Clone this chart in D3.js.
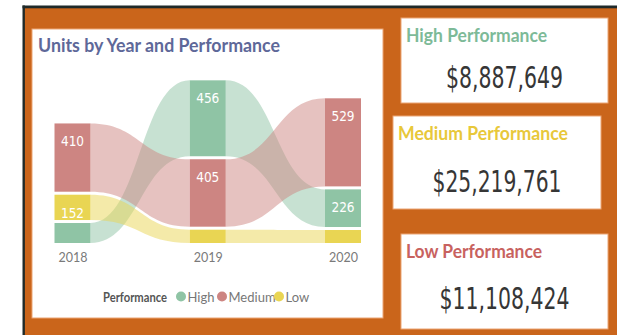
<!DOCTYPE html>
<html>
<head>
<meta charset="utf-8">
<script src="https://cdn.jsdelivr.net/npm/d3@7"></script>
<style>
  html, body { margin: 0; padding: 0; background: #ffffff; }
  svg { display: block; }
</style>
</head>
<body>
<svg id="dash" width="617" height="335"></svg>
<script>
// Units per year, by performance band
const years = ["2018", "2019", "2020"];
const categories = ["High", "Medium", "Low"];
const highUnits = [120, 456, 226];
const mediumUnits = [410, 405, 529];
const lowUnits = [152, 80, 78];

// Revenue cards
const cardTitles = ["High Performance", "Medium Performance", "Low Performance"];
const cardValues = [8887649, 25219761, 11108424];

const colors = { High: "#8fc4a5", Medium: "#cd8582", Low: "#e9d553" };
const cardTitleColors = ["#7dba98", "#e8c83a", "#c8625f"];
const orange = "#ca651b";
const panelStroke = "#eba574";

const svg = d3.select("#dash");

// frame: dark rule lines and orange canvas
svg.append("rect").attr("x", 24).attr("y", 8).attr("width", 593).attr("height", 327).attr("fill", orange);
svg.append("rect").attr("x", 22.5).attr("y", 5.5).attr("width", 594.5).attr("height", 2.8).attr("fill", "#1f2a2a");
svg.append("rect").attr("x", 22.5).attr("y", 5.5).attr("width", 2.4).attr("height", 329.5).attr("fill", "#1f2a2a");

// chart panel
const panel = { x: 32, y: 29, w: 351, h: 289 };
svg.append("rect").attr("x", panel.x).attr("y", panel.y).attr("width", panel.w).attr("height", panel.h)
  .attr("fill", "#fff").attr("stroke", panelStroke).attr("stroke-width", 1);

svg.append("text").attr("x", 38).attr("y", 52)
  .attr("font-family", "Lato, 'Open Sans', sans-serif").attr("font-weight", 700).attr("font-size", 19.5)
  .attr("fill", "#5e6899")
  .attr("textLength", 242).attr("lengthAdjust", "spacingAndGlyphs")
  .text("Units by Year and Performance");

// ---- ribbon chart ----
const series = { High: highUnits, Medium: mediumUnits, Low: lowUnits };
const barW = 36;
const gap = 3;
const x = d3.scalePoint().domain(years).range([72.5, 343]);
const y = d3.scaleLinear().domain([0, 1000]).range([243, 76.5]);
const h = v => y(0) - y(v);

// stack each year with the largest band on top
const layout = years.map((yr, i) => {
  const items = categories.map(c => ({ cat: c, value: series[c][i] }))
    .sort((a, b) => a.value - b.value);
  let bottom = y(0);
  const out = {};
  items.forEach(it => {
    const top = bottom - h(it.value);
    out[it.cat] = { top, bottom, value: it.value };
    bottom = top - gap;
  });
  return out;
});

const g = svg.append("g");

// ribbons between consecutive years
categories.forEach(c => {
  for (let i = 0; i < years.length - 1; i++) {
    const a = layout[i][c], b = layout[i + 1][c];
    const x0 = x(years[i]) + barW / 2;
    const x1 = x(years[i + 1]) - barW / 2;
    const xm = (x0 + x1) / 2;
    const p = d3.path();
    p.moveTo(x0, a.top);
    p.bezierCurveTo(xm, a.top, xm, b.top, x1, b.top);
    p.lineTo(x1, b.bottom);
    p.bezierCurveTo(xm, b.bottom, xm, a.bottom, x0, a.bottom);
    p.closePath();
    g.append("path").attr("d", p.toString()).attr("fill", colors[c]).attr("fill-opacity", 0.5);
  }
});

// bars and value labels
years.forEach((yr, i) => {
  categories.forEach(c => {
    const s = layout[i][c];
    g.append("rect")
      .attr("x", x(yr) - barW / 2).attr("y", s.top)
      .attr("width", barW).attr("height", s.bottom - s.top)
      .attr("fill", colors[c]);
    if (s.bottom - s.top >= 22) {
      g.append("text")
        .attr("x", x(yr)).attr("y", s.top + 23)
        .attr("text-anchor", "middle")
        .attr("font-family", "'Liberation Sans Narrow', 'DejaVu Sans Condensed', sans-serif")
        .attr("font-size", 13.5).attr("fill", "#fff")
        .text(s.value);
    }
  });
});

// year axis
const axis = d3.axisBottom(x).tickSize(0).tickPadding(0);
const axG = svg.append("g").attr("transform", "translate(0,253)").call(axis);
axG.select(".domain").remove();
axG.selectAll("text")
  .attr("font-family", "Lato, 'Open Sans', sans-serif").attr("font-size", 12.5)
  .attr("fill", "#7a7a7a").attr("dy", "0.71em");

// legend
const lg = svg.append("g").attr("font-family", "Lato, 'Open Sans', sans-serif");
lg.append("text").attr("x", 103).attr("y", 301.5).attr("font-size", 13).attr("font-weight", 700)
  .attr("fill", "#555").attr("textLength", 64).attr("lengthAdjust", "spacingAndGlyphs").text("Performance");
const legendX = [181, 222, 279];
categories.forEach((c, i) => {
  lg.append("circle").attr("cx", legendX[i]).attr("cy", 296.5).attr("r", 5).attr("fill", colors[c]);
  lg.append("text").attr("x", legendX[i] + 6.5).attr("y", 301.5).attr("font-size", 13)
    .attr("fill", "#777").text(c);
});

// ---- revenue cards ----
const cards = [
  { x: 401, y: 18, w: 207, h: 85, base: 88, tw: 141, vw: 117 },
  { x: 393, y: 116, w: 208, h: 93, base: 192, tw: 170, vw: 129 },
  { x: 401, y: 234, w: 207, h: 95, base: 309, tw: 136, vw: 130 }
];
const fmt = d3.format("$,");
cards.forEach((cd, i) => {
  svg.append("rect").attr("x", cd.x).attr("y", cd.y).attr("width", cd.w).attr("height", cd.h)
    .attr("fill", "#fff").attr("stroke", panelStroke).attr("stroke-width", 1);
  svg.append("text").attr("x", cd.x + 5).attr("y", cd.y + 23.5)
    .attr("font-family", "Lato, 'Open Sans', sans-serif").attr("font-weight", 700).attr("font-size", 18.5)
    .attr("fill", cardTitleColors[i])
    .attr("textLength", cd.tw).attr("lengthAdjust", "spacingAndGlyphs")
    .text(cardTitles[i]);
  svg.append("text").attr("x", cd.x + cd.w / 2).attr("y", cd.base)
    .attr("text-anchor", "middle")
    .attr("font-family", "'Liberation Sans Narrow', 'DejaVu Sans Condensed', sans-serif")
    .attr("font-size", 30).attr("fill", "#363636")
    .attr("textLength", cd.vw).attr("lengthAdjust", "spacingAndGlyphs")
    .text(fmt(cardValues[i]));
});
</script>
</body>
</html>
